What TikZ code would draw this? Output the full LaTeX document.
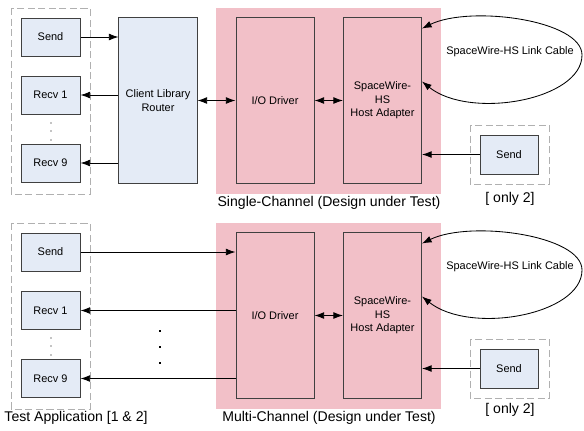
\documentclass[tikz,border=0pt]{standalone}
\usepackage{fontspec}
\setmainfont{Liberation Sans}
\usetikzlibrary{calc, arrows.meta}

\definecolor{dutpink}{RGB}{242,192,200}
\definecolor{boxblue}{RGB}{228,235,246}
\definecolor{boxline}{RGB}{64,64,64}
\definecolor{groupgray}{RGB}{176,176,176}

\tikzset{
	blk/.style = {draw=boxline, line width=0.7pt, fill=boxblue, align=center, inner sep=0pt, font=\fontsize{7.8}{9.6}\selectfont},
	unitbox/.style = {blk, minimum width=1.475cm, minimum height=0.95cm},
	tallbox/.style = {blk, minimum width=1.95cm, minimum height=4.125cm},
	groupbox/.style = {draw=groupgray, line width=0.6pt, dash pattern=on 5pt off 2.5pt},
	sig/.style = {line width=0.6pt, -{Latex[length=2.4mm,width=1.7mm]}},
	bisig/.style = {line width=0.6pt, {Latex[length=2.4mm,width=1.7mm]}-{Latex[length=2.4mm,width=1.7mm]}},
	groupcap/.style = {font=\fontsize{10}{12}\selectfont}
}

\begin{document}
\begin{tikzpicture}[x=0.025cm, y=-0.025cm]
	\useasboundingbox (0,0) rectangle (584,430);

	% single channel
	\fill[dutpink] (216,8) rectangle (441,194);
	\draw[groupbox] (11,8) rectangle (90,194);
	\draw[groupbox] (470,125) rectangle (549,184);

	\node[unitbox] (sendS) at (50.5,37) {Send};
	\node[unitbox] (recvS1) at (50.5,95) {Recv 1};
	\node[unitbox] (recvS9) at (50.5,163) {Recv 9};
	\node[tallbox] (routerS) at (158,100.5) {Client Library\\Router};
	\node[tallbox, fill=none] (ioS) at (275,100.5) {I/O Driver};
	\node[tallbox, fill=none] (hostS) at (382.5,100.5) {SpaceWire-\\HS\\Host Adapter};
	\node[unitbox, minimum width=1.45cm, minimum height=0.975cm] (sendS2) at (509,154.5) {Send};

	\foreach \y in {123,131,140}
		\fill (51,\y) circle (0.5pt);

	\draw[sig] (sendS) -- (routerS.west |- sendS);
	\draw[sig] (routerS.west |- recvS1) -- (recvS1);
	\draw[sig] (routerS.west |- recvS9) -- (recvS9);
	\draw[bisig] (routerS) -- (ioS);
	\draw[bisig] (ioS) -- (hostS);
	\draw[sig] (sendS2) -- (hostS.east |- sendS2);
	\draw[bisig] ($(hostS.north east)+(0,11)$) .. controls (470,5) and (582,20) .. (582,55)
		.. controls (582,100) and (470,120) .. ($(hostS.north east)+(0,64)$);

	\node[blk, draw=none, fill=none] (cableS) at (510,52) {SpaceWire-HS Link Cable};
	\node[groupcap] (onlyS) at (510,199) {[ only 2]};
	\node[groupcap] (dutS) at (329,203) {Single-Channel (Design under Test)};

	% multi channel
	\fill[dutpink] (216,223) rectangle (441,409);
	\draw[groupbox] (11,223) rectangle (90,409);
	\draw[groupbox] (470,339) rectangle (549,398);

	\node[unitbox] (sendM) at (50.5,252) {Send};
	\node[unitbox] (recvM1) at (50.5,310.5) {Recv 1};
	\node[unitbox] (recvM9) at (50.5,378.5) {Recv 9};
	\node[tallbox, fill=none] (ioM) at (275,315.5) {I/O Driver};
	\node[tallbox, fill=none] (hostM) at (382.5,315.5) {SpaceWire-\\HS\\Host Adapter};
	\node[unitbox, minimum width=1.45cm, minimum height=0.975cm] (sendM2) at (509,368.5) {Send};

	\foreach \y in {338,346,355}
		\fill (51,\y) circle (0.5pt);
	\foreach \y in {331,347,363}
		\fill (159,\y-1) rectangle (161,\y+1);

	\draw[sig] (sendM) -- (ioM.west |- sendM);
	\draw[sig] (ioM.west |- recvM1) -- (recvM1);
	\draw[sig] (ioM.west |- recvM9) -- (recvM9);
	\draw[bisig] (ioM) -- (hostM);
	\draw[sig] (sendM2) -- (hostM.east |- sendM2);
	\draw[bisig] ($(hostM.north east)+(0,11)$) .. controls (470,220) and (582,235) .. (582,270)
		.. controls (582,315) and (470,335) .. ($(hostM.north east)+(0,64)$);

	\node[blk, draw=none, fill=none] (cableM) at (510,267) {SpaceWire-HS Link Cable};
	\node[groupcap] (onlyM) at (510,410) {[ only 2]};
	\node[groupcap] (dutM) at (329,418) {Multi-Channel (Design under Test)};
	\node[groupcap] (appM) at (76,418) {Test Application [1 \& 2]};
\end{tikzpicture}
\end{document}
